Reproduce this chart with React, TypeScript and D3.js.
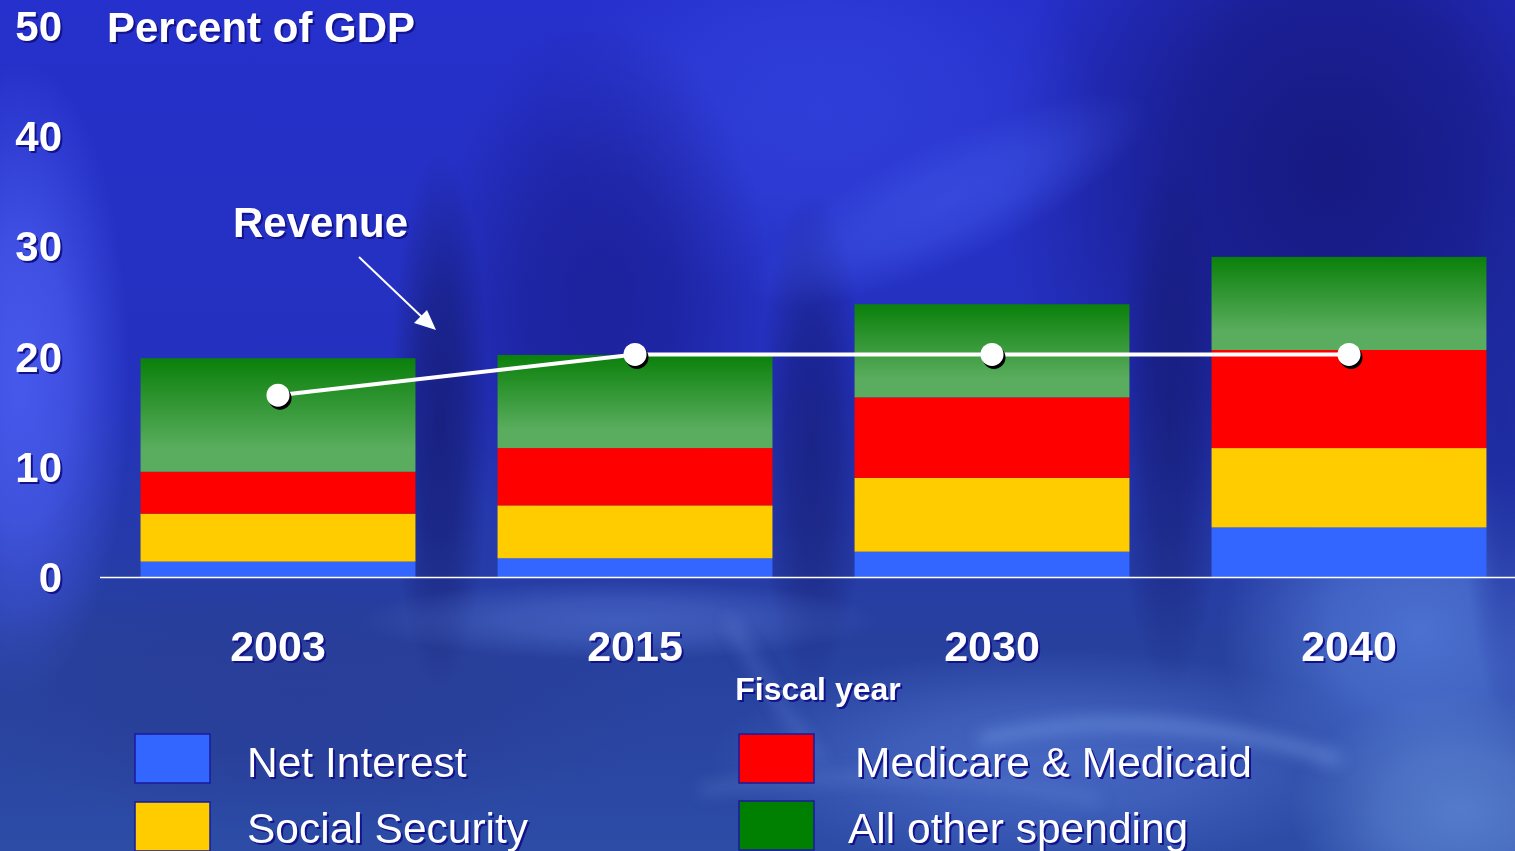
import React from "react";
import * as d3 from "d3";

const years = ["2003", "2015", "2030", "2040"];
const netInterest = [1.4, 1.7, 2.3, 4.5];
const socialSecurity = [4.35, 4.8, 6.7, 7.2];
const medicare = [3.8, 5.2, 7.3, 8.9];
const allOther = [10.3, 8.45, 8.45, 8.45];
const revenue = [16.5, 20.2, 20.2, 20.2];
const yTicks = [0, 10, 20, 30, 40, 50];

const seriesKeys = ["net", "ss", "med", "other"];
const seriesNames = ["Net Interest", "Social Security", "Medicare & Medicaid", "All other spending"];
const seriesColors = ["#3366ff", "#ffcc00", "#ff0000", "url(#greenGrad)"];
const legendColors = ["#3366ff", "#ffcc00", "#ff0000", "#008000"];

const W = 1515;
const H = 851;

// soft background blobs: [cx, cy, rx, ry, color, opacity, rotation]
const blobs: [number, number, number, number, string, number, number][] = [
  [1330, 170, 330, 380, "#15177a", 0.9, 0],
  [820, 110, 280, 190, "#3444e0", 0.7, 0],
  [600, 300, 170, 280, "#1a1d90", 0.75, 0],
  [20, 380, 110, 320, "#4d60f4", 0.85, 0],
  [1420, 630, 200, 170, "#5279d8", 0.85, 0],
  [1050, 760, 340, 110, "#4b6dc8", 0.8, 0],
  [300, 700, 380, 130, "#293d96", 0.8, 0],
  [1460, 810, 170, 120, "#5c84d2", 0.85, 0],
  [440, 420, 50, 270, "#131968", 0.7, 0],
  [812, 440, 55, 250, "#131968", 0.6, 0],
  [1170, 420, 55, 270, "#131968", 0.6, 0],
  [1505, 420, 45, 300, "#1c2a9a", 0.7, 0],
  [950, 200, 220, 60, "#4058e8", 0.55, -25],
  [620, 620, 260, 40, "#5a7ad8", 0.5, 0],
];

export default function App() {
  const rows = years.map((y, i) => ({
    year: y,
    net: netInterest[i],
    ss: socialSecurity[i],
    med: medicare[i],
    other: allOther[i],
  }));
  const stack = d3.stack<any>().keys(seriesKeys)(rows);
  const x = d3.scaleBand().domain(years).range([99.5, 1527.5]).paddingInner(0.23).paddingOuter(0.115);
  const y = d3.scaleLinear().domain([0, 50]).range([577, 26]);
  const line = d3
    .line<number>()
    .x((_, i) => (x(years[i]) as number) + x.bandwidth() / 2)
    .y((d) => y(d));
  const font = "'Liberation Sans', Arial, Helvetica, sans-serif";
  const shadow = "#12128a";

  const ShadowText = (p: any) => {
    const { x: tx, y: ty, children, ...rest } = p;
    return (
      <g>
        <text x={tx + 2} y={ty + 2} fill={shadow} {...rest}>{children}</text>
        <text x={tx} y={ty} fill="#ffffff" {...rest}>{children}</text>
      </g>
    );
  };

  const legendItems = [
    { i: 0, bx: 135, by: 734, tx: 247, ty: 777 },
    { i: 1, bx: 135, by: 802, tx: 247, ty: 843 },
    { i: 2, bx: 739, by: 734, tx: 855, ty: 777 },
    { i: 3, bx: 739, by: 801, tx: 848, ty: 843 },
  ];

  const fAttrs = { filterUnits: "userSpaceOnUse", x: -200, y: -200, width: W + 400, height: H + 400 } as any;

  return (
    <svg width={W} height={H} style={{ position: "absolute", left: 0, top: 0, display: "block" }} fontFamily={font}>
      <defs>
        <linearGradient id="bgGrad" x1="0" y1="0" x2="0" y2="1">
          <stop offset="0" stopColor="#2630cc" />
          <stop offset="0.45" stopColor="#2431be" />
          <stop offset="0.75" stopColor="#27409e" />
          <stop offset="1" stopColor="#2c4ca6" />
        </linearGradient>
        <linearGradient id="greenGrad" x1="0" y1="0" x2="0" y2="1">
          <stop offset="0" stopColor="#0a800a" />
          <stop offset="0.8" stopColor="#5aad5e" />
          <stop offset="1" stopColor="#5aad5e" />
        </linearGradient>
        {blobs.map((b, i) => (
          <radialGradient key={i} id={`blob${i}`} cx="0.5" cy="0.5" r="0.5">
            <stop offset="0" stopColor={b[4]} stopOpacity={b[5]} />
            <stop offset="0.45" stopColor={b[4]} stopOpacity={b[5] * 0.75} />
            <stop offset="1" stopColor={b[4]} stopOpacity={0} />
          </radialGradient>
        ))}
        <filter id="blur8" {...fAttrs}>
          <feGaussianBlur stdDeviation="8" />
        </filter>
      </defs>

      {/* background */}
      <rect x={0} y={0} width={W} height={H} fill="url(#bgGrad)" />
      {blobs.map((b, i) => (
        <ellipse
          key={i}
          cx={b[0]}
          cy={b[1]}
          rx={b[2]}
          ry={b[3]}
          fill={`url(#blob${i})`}
          transform={b[6] ? `rotate(${b[6]} ${b[0]} ${b[1]})` : undefined}
        />
      ))}
      <g filter="url(#blur8)">
        <path d="M 980 740 Q 1150 700 1340 760" stroke="#8ab0f0" strokeWidth={10} fill="none" opacity={0.5} />
        <path d="M 700 790 Q 900 760 1100 800" stroke="#7898e0" strokeWidth={8} fill="none" opacity={0.35} />
        <path d="M 820 760 Q 760 680 730 620" stroke="#7a9ae8" strokeWidth={8} fill="none" opacity={0.35} />
      </g>

      {/* bars */}
      {stack.map((s, si) => (
        <g key={s.key}>
          {s.map((d: any, i: number) => (
            <rect
              key={i}
              x={x(years[i]) as number}
              y={y(d[1])}
              width={x.bandwidth()}
              height={y(d[0]) - y(d[1])}
              fill={seriesColors[si]}
            />
          ))}
        </g>
      ))}

      {/* baseline */}
      <line x1={100} x2={W} y1={577.5} y2={577.5} stroke="#ffffff" strokeWidth={1.6} />

      {/* y ticks */}
      {yTicks.map((t) => (
        <ShadowText key={t} x={62} y={y(t) + 15} textAnchor="end" fontSize={42} fontWeight="bold">
          {t}
        </ShadowText>
      ))}
      <ShadowText x={107} y={42} fontSize={42} fontWeight="bold">Percent of GDP</ShadowText>

      {/* revenue line */}
      <path d={line(revenue) || ""} fill="none" stroke="#ffffff" strokeWidth={4} />
      {revenue.map((r, i) => {
        const cx = (x(years[i]) as number) + x.bandwidth() / 2;
        return (
          <g key={i}>
            <circle cx={cx + 2} cy={y(r) + 3} r={11.5} fill="#000000" />
            <circle cx={cx} cy={y(r)} r={11.5} fill="#ffffff" />
          </g>
        );
      })}

      {/* Revenue annotation */}
      <ShadowText x={233} y={237} fontSize={42} fontWeight="bold">Revenue</ShadowText>
      <line x1={359} y1={257} x2={424} y2={319} stroke="#ffffff" strokeWidth={2} />
      <path d="M 436 330 L 414 323 L 427 310 Z" fill="#ffffff" />

      {/* x labels */}
      {years.map((yr) => (
        <ShadowText
          key={yr}
          x={(x(yr) as number) + x.bandwidth() / 2}
          y={661}
          textAnchor="middle"
          fontSize={43}
          fontWeight="bold"
        >
          {yr}
        </ShadowText>
      ))}
      <ShadowText x={818} y={700} textAnchor="middle" fontSize={32} fontWeight="bold">Fiscal year</ShadowText>

      {/* legend */}
      {legendItems.map((l) => (
        <g key={l.i}>
          <rect x={l.bx} y={l.by} width={75} height={49} fill={legendColors[l.i]} stroke="#1a1a9a" strokeWidth={1.5} />
          <ShadowText x={l.tx} y={l.ty} fontSize={42.5}>{seriesNames[l.i]}</ShadowText>
        </g>
      ))}
    </svg>
  );
}
